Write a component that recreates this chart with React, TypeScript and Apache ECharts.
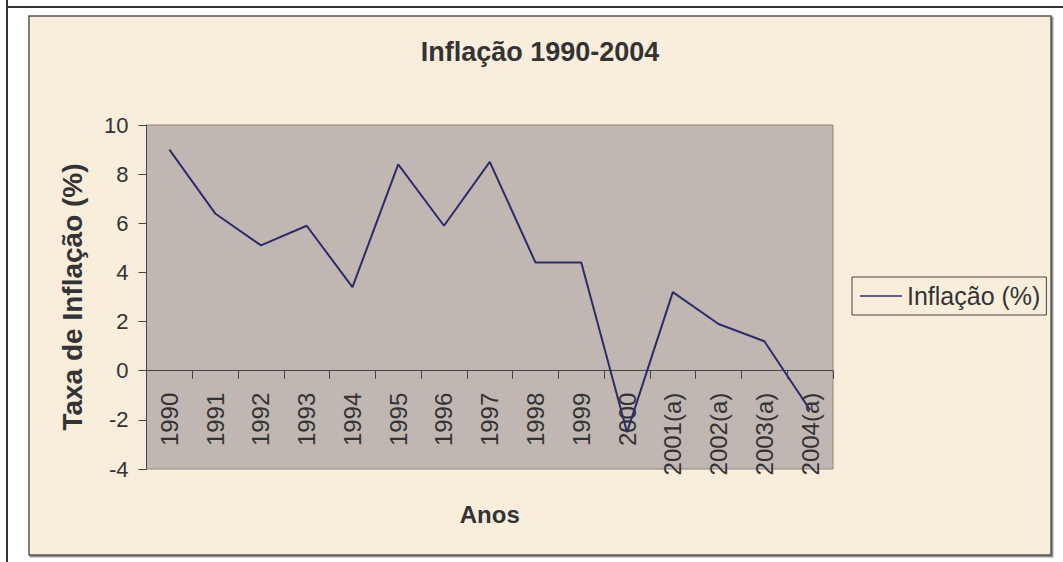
import React, { useEffect, useRef } from "react";
import * as echarts from "echarts";

const years = ["1990", "1991", "1992", "1993", "1994", "1995", "1996", "1997", "1998", "1999", "2000", "2001(a)", "2002(a)", "2003(a)", "2004(a)"];
const inflation = [9.0, 6.4, 5.1, 5.9, 3.4, 8.4, 5.9, 8.5, 4.4, 4.4, -2.5, 3.2, 1.9, 1.2, -1.6];
const titleText = "Inflação 1990-2004";
const seriesName = "Inflação (%)";
const yAxisName = "Taxa de Inflação (%)";
const xAxisName = "Anos";
const yMin = -4;
const yMax = 10;
const yStep = 2;

const FONT = "'Liberation Sans', Arial, sans-serif";

const GRID_TOP = 125;
const GRID_BOTTOM_Y = 469;
const zeroY = GRID_TOP + ((GRID_BOTTOM_Y - GRID_TOP) * yMax) / (yMax - yMin);

export default function App() {
  const ref = useRef<HTMLDivElement>(null);
  useEffect(() => {
    if (!ref.current) return;
    const chart = echarts.init(ref.current, undefined, { renderer: "svg" });
    chart.setOption({
      animation: false,
      backgroundColor: "#ffffff",
      textStyle: { fontFamily: FONT },
      graphic: [
        { type: "line", z: -100, shape: { x1: 7, y1: 0, x2: 7, y2: 562 }, style: { stroke: "#333", lineWidth: 2 } },
        { type: "line", z: -100, shape: { x1: 6, y1: 7, x2: 1063, y2: 7 }, style: { stroke: "#333", lineWidth: 2 } },
        {
          type: "rect", z: -100,
          shape: { x: 29, y: 16, width: 1022, height: 539 },
          style: { fill: "#f9eddc", stroke: "#555", lineWidth: 1.5, shadowColor: "rgba(0,0,0,0.5)", shadowOffsetX: 1.5, shadowOffsetY: 1.5, shadowBlur: 0 },
        },
      ],
      title: {
        text: titleText,
        left: 535,
        top: 33,
        textAlign: "center",
        textStyle: { fontFamily: FONT, fontSize: 27, fontWeight: "bold", color: "#333" },
      },
      legend: {
        left: 852,
        top: 277,
        orient: "vertical",
        itemWidth: 42,
        itemHeight: 14,
        padding: [4, 6, 4, 8],
        borderColor: "#444",
        borderWidth: 1,
        textStyle: { fontFamily: FONT, fontSize: 25, lineHeight: 30, color: "#333" },
        data: [{ name: seriesName, icon: "path://M0,0 L42,0 L42,1.5 L0,1.5 Z" }],
      },
      grid: {
        left: 146.5,
        top: GRID_TOP,
        right: 1063 - 833,
        bottom: 562 - GRID_BOTTOM_Y,
        outerBoundsMode: "none",
        containLabel: false,
        show: true,
        backgroundColor: "#c0b7b3",
        borderColor: "#8c8480",
        borderWidth: 1,
      },
      xAxis: {
        type: "category",
        data: years,
        position: "bottom",
        offset: -(GRID_BOTTOM_Y - zeroY),
        name: xAxisName,
        nameLocation: "middle",
        nameGap: 132,
        nameMoveOverlap: false,
        nameTextStyle: { fontFamily: FONT, fontSize: 24, fontWeight: "bold", color: "#333" },
        axisLine: { onZero: false, lineStyle: { color: "#444", width: 1 } },
        axisTick: { show: true, length: 8, lineStyle: { color: "#444" } },
        axisLabel: { rotate: 90, margin: 22, fontFamily: FONT, fontSize: 24, color: "#333", hideOverlap: false, interval: 0 },
        splitLine: { show: false },
      },
      yAxis: {
        type: "value",
        min: yMin,
        max: yMax,
        interval: yStep,
        name: yAxisName,
        nameLocation: "middle",
        nameGap: 60,
        nameMoveOverlap: false,
        nameTextStyle: { fontFamily: FONT, fontSize: 28, fontWeight: "bold", color: "#333" },
        axisLine: { show: true, lineStyle: { color: "#444", width: 1 } },
        axisTick: { show: true, length: 8, lineStyle: { color: "#444" } },
        axisLabel: { margin: 18, fontFamily: FONT, fontSize: 22, color: "#333" },
        splitLine: { show: false },
      },
      series: [
        {
          name: seriesName,
          type: "line",
          data: inflation,
          symbol: "none",
          lineStyle: { color: "#2c2c68", width: 2 },
          itemStyle: { color: "#2c2c68" },
        },
      ],
    });
    return () => chart.dispose();
  }, []);
  return <div ref={ref} style={{ position: "fixed", left: 0, top: 0, width: 1063, height: 562 }} />;
}
